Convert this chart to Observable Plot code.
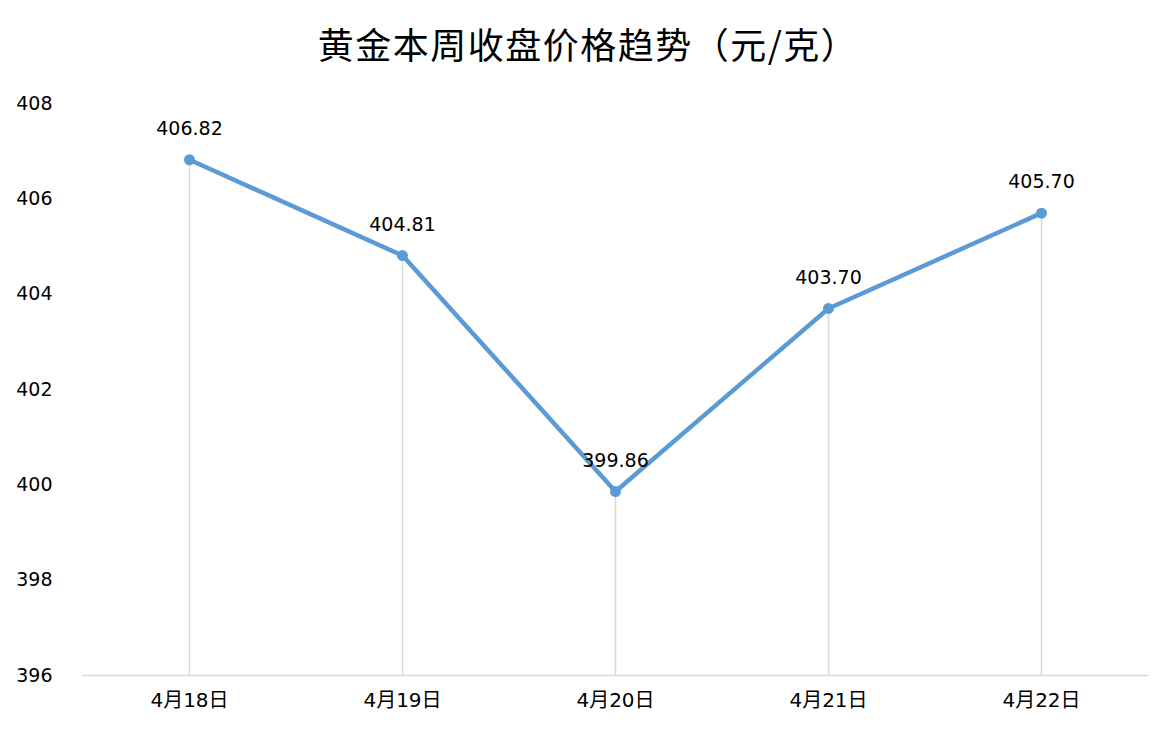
<!DOCTYPE html>
<html><head><meta charset="utf-8">
<script src="https://cdn.jsdelivr.net/npm/d3@7"></script>
<script src="https://cdn.jsdelivr.net/npm/@observablehq/plot@0.6"></script>
<style>
body{margin:0;background:#fff;font-family:"DejaVu Sans","Noto Sans CJK SC",sans-serif;}
#title{height:85px;line-height:86px;text-align:center;font-size:36px;font-family:"Noto Sans CJK SC",sans-serif;color:#000;letter-spacing:1.5px;}
</style></head>
<body>
<div id="title">黄金本周收盘价格趋势（元/克）</div>
<div id="chart"></div>
<script>
const dates = ["4月18日","4月19日","4月20日","4月21日","4月22日"];
const prices = [406.82, 404.81, 399.86, 403.70, 405.70];
const yTicks = [396, 398, 400, 402, 404, 406, 408];
const data = dates.map((d, i) => ({date: d, price: prices[i]}));
const blue = "#5B9BD5";
const chart = Plot.plot({
  width: 1176,
  height: 650,
  marginLeft: 82,
  marginRight: 28,
  marginTop: 18,
  marginBottom: 60,
  style: {fontFamily: '"DejaVu Sans","Noto Sans CJK SC",sans-serif', background: "#fff", color: "#000"},
  x: {type: "point", domain: dates, padding: 0.5, label: null},
  y: {domain: [396, 408], label: null},
  marks: [
    Plot.axisY({ticks: yTicks, tickSize: 0, tickPadding: 30, fontSize: 19, label: null}),
    Plot.axisX({tickSize: 0, tickPadding: 17, fontSize: 20, label: null}),
    Plot.ruleY([396], {stroke: "#d9d9d9", strokeWidth: 1.5}),
    Plot.ruleX(data, {x: "date", y1: 396, y2: "price", stroke: "#d9d9d9", strokeWidth: 1.5}),
    Plot.line(data, {x: "date", y: "price", stroke: blue, strokeWidth: 4.5}),
    Plot.dot(data, {x: "date", y: "price", fill: blue, r: 5.5}),
    Plot.text(data, {x: "date", y: "price", text: d => d.price.toFixed(2), dy: -31, fontSize: 19, fill: "#000"})
  ]
});
document.getElementById("chart").appendChild(chart);
</script>
</body></html>
